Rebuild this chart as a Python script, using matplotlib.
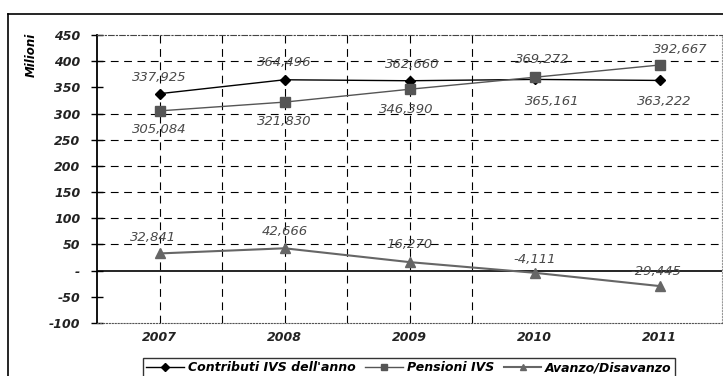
import matplotlib.pyplot as plt
import matplotlib.ticker as mticker
from matplotlib.lines import Line2D

plt.rcParams['axes.unicode_minus'] = False

# --- Data (milioni) ---
years = ['2007', '2008', '2009', '2010', '2011']
contributi = [337.925, 364.496, 362.660, 365.161, 363.222]
pensioni = [305.084, 321.830, 346.390, 369.272, 392.667]
avanzo = [32.841, 42.666, 16.270, -4.111, -29.445]

lbl_contributi = ['337,925', '364,496', '362,660', '365,161', '363,222']
lbl_pensioni = ['305,084', '321,830', '346,390', '369,272', '392,667']
lbl_avanzo = ['32,841', '42,666', '16,270', '-4,111', '-29,445']

# label offsets in pixels (dx, dy)
off_contributi = [(0, 16), (0, 17), (3, 16), (18, -22), (5, -21)]
off_pensioni = [(0, -19), (0, -19), (-3, -20), (8, 18), (21, 16)]
off_avanzo = [(-6, 16), (0, 17), (0, 18), (0, 13), (-4, 15)]

x = list(range(len(years)))

fig = plt.figure(figsize=(7.23, 3.76), dpi=100)
ax = fig.add_axes([97 / 723, 1 - 323 / 376, 625 / 723, 288 / 376])

# outer frame of the scanned page
fig.add_artist(Line2D([8 / 723, 1], [1 - 14 / 376, 1 - 14 / 376], transform=fig.transFigure,
                      color='black', lw=1.2))
fig.add_artist(Line2D([8 / 723, 8 / 723], [0, 1 - 14 / 376], transform=fig.transFigure,
                      color='black', lw=1.2))

ax.set_xlim(-0.5, 4.5)
ax.set_ylim(-100, 450)

# grid (no line at 350 in the original)
for v in [50, 100, 150, 200, 250, 300, 400]:
    ax.axhline(v, color='black', lw=0.8, ls=(0, (7, 5)), zorder=1)
for gx in [0, 0.5, 1, 1.5, 2, 2.5]:
    ax.axvline(gx, color='black', lw=0.8, ls=(0, (7, 5)), zorder=1)
ax.axhline(0, color='black', lw=1.2, zorder=2)

line_c, = ax.plot(x, contributi, color='black', lw=1.0, marker='D', ms=5.5, zorder=4,
                  label="Contributi IVS dell'anno")
line_p, = ax.plot(x, pensioni, color='#555555', lw=1.0, marker='s', ms=7, zorder=4,
                  label='Pensioni IVS')
line_a, = ax.plot(x, avanzo, color='#666666', lw=1.5, marker='^', ms=7, zorder=4,
                  label='Avanzo/Disavanzo')

for vals, lbls, offs in [(contributi, lbl_contributi, off_contributi),
                         (pensioni, lbl_pensioni, off_pensioni),
                         (avanzo, lbl_avanzo, off_avanzo)]:
    for xi, v, t, (dx, dy) in zip(x, vals, lbls, offs):
        ax.annotate(t, (xi, v), xytext=(dx, dy), textcoords='offset pixels',
                    ha='center', va='center', fontsize=9.5, style='italic',
                    color='#4a4a4a', zorder=5)

# spines
ax.spines['left'].set_linewidth(1.3)
ax.spines['top'].set_linestyle((0, (5, 2, 1, 2)))
ax.spines['top'].set_color('#444444')
ax.spines['top'].set_linewidth(0.8)
ax.spines['bottom'].set_linestyle(':')
ax.spines['bottom'].set_color('#555555')
ax.spines['right'].set_linestyle(':')
ax.spines['right'].set_color('#999999')

ax.set_yticks(range(-100, 451, 50))
ax.yaxis.set_major_formatter(mticker.FuncFormatter(lambda v, p: '-' if v == 0 else '%d' % v))
ax.tick_params(axis='y', direction='inout', length=8, width=1, pad=8, labelcolor='#222222')
ax.set_xticks(x)
ax.set_xticklabels(years)
ax.tick_params(axis='x', length=0, pad=6, labelcolor='#222222')
for t in ax.get_yticklabels() + ax.get_xticklabels():
    t.set_fontweight('bold')
    t.set_fontstyle('italic')
    t.set_fontsize(9)

fig.text(31 / 723, 1 - 55 / 376, 'Milioni', rotation=90, ha='center', va='center',
         fontsize=8.5, fontweight='bold', style='italic')

leg = fig.legend(handles=[line_c, line_p, line_a], loc='lower center', ncol=3,
                 bbox_to_anchor=(409 / 723, -0.02), frameon=True, fancybox=False,
                 edgecolor='black', handlelength=3.0, handletextpad=0.3, columnspacing=0.8,
                 borderpad=0.25, markerscale=0.7,
                 prop={'weight': 'bold', 'style': 'italic', 'size': 9})
leg.get_frame().set_linewidth(1.0)

fig.savefig('out.png', dpi=100)
